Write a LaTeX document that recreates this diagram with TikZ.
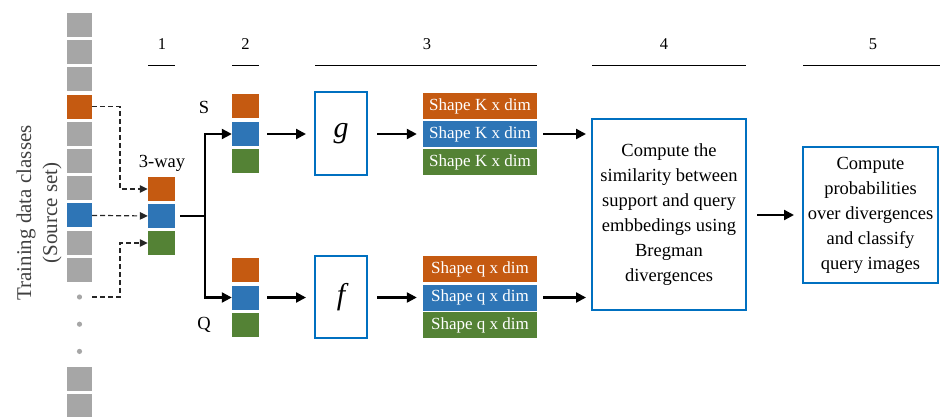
\documentclass[tikz,border=0pt]{standalone}
\usepackage{fontspec}
\setmainfont{Liberation Serif}
\usetikzlibrary{arrows.meta,calc}

\definecolor{cOrange}{HTML}{C55A11}
\definecolor{cBlue}{HTML}{2E75B6}
\definecolor{cGreen}{HTML}{548235}
\definecolor{cGray}{HTML}{A6A6A6}
\definecolor{cFrame}{HTML}{0070C0}
\definecolor{cText}{HTML}{404040}

\tikzset{
  cell/.style={rectangle, inner sep=0pt, minimum width=25pt, minimum height=24pt},
  wcell/.style={rectangle, inner sep=0pt, minimum width=27pt, minimum height=24pt},
  shapebox/.style={rectangle, inner sep=0pt, minimum width=114pt, minimum height=26pt,
    text=white, font=\fontsize{17}{20}\selectfont},
  fnbox/.style={rectangle, draw=cFrame, line width=2pt, inner sep=0pt,
    minimum width=52pt, minimum height=82pt, font=\fontsize{30}{32}\selectfont\itshape},
  textbox/.style={rectangle, draw=cFrame, line width=2pt, inner sep=0pt, align=center,
    font=\fontsize{18.5}{25}\selectfont},
  flow/.style={line width=2.3pt, -{Triangle[length=10pt,width=10pt]}},
  pick/.style={line width=1.2pt, dash pattern=on 5pt off 3pt, draw=black!85,
    -{Triangle[length=8pt,width=7.5pt]}},
  stagenum/.style={font=\fontsize{16.5}{18}\selectfont},
  stageline/.style={line width=0.9pt},
  tag/.style={font=\fontsize{18.5}{20}\selectfont},
}

\begin{document}
\begin{tikzpicture}[x=1pt,y=-1pt]
\useasboundingbox (0,0) rectangle (940,417);

% source set column
\foreach \i/\c in {0/cGray,1/cGray,2/cGray,3/cOrange,4/cGray,5/cGray,6/cGray,7/cBlue,8/cGray,9/cGray,13/cGray,14/cGray}
  \node[cell, fill=\c] (src\i) at (79.5,{25+27.2*\i}) {};
\foreach \i in {10,11,12}
  \fill[cGray] (79.5,{25+27.2*\i}) circle (2.6) coordinate (dot\i);
\coordinate (dotstart) at (92,297);

\node[rotate=90, align=center, text=cText, font=\fontsize{21}{26}\selectfont] (lbl) at (39,213)
  {Training data classes\\(Source set)};

% sampled 3-way task
\node[wcell, fill=cOrange] (w3o) at (161.5,189) {};
\node[wcell, fill=cBlue]   (w3b) at (161.5,216) {};
\node[wcell, fill=cGreen]  (w3g) at (161.5,243) {};
\node[tag] (way) at (162,163) {3-way};

\coordinate (dx) at (120,0);
\draw[pick] (src3.east) -- (src3.east -| dx) -- (w3o.west -| dx) -- (w3o.west);
\draw[pick] (src7.east) -- (w3b.west);
\draw[pick] (dotstart) -- (dotstart -| dx) -- (w3g.west -| dx) -- (w3g.west);

% support / query split
\node[wcell, fill=cOrange] (so) at (245.5,106.5) {};
\node[wcell, fill=cBlue]   (sb) at (245.5,134) {};
\node[wcell, fill=cGreen]  (sg) at (245.5,161.5) {};
\node[wcell, fill=cOrange] (qo) at (245.5,270) {};
\node[wcell, fill=cBlue]   (qb) at (245.5,297.5) {};
\node[wcell, fill=cGreen]  (qg) at (245.5,325) {};
\node[tag] (S) at (204,107) {S};
\node[tag] (Q) at (204,325) {Q};

\coordinate (split) at (205,216);
\draw[line width=2.3pt] ([xshift=5pt]w3b.east) -- (split);
\draw[flow] (split) |- (sb.west);
\draw[flow] (split) |- (qb.west);

% embedding networks
\node[fnbox, minimum height=83pt] (g) at (341,133.5) {g};
\node[fnbox] (f) at (341,297) {f};
\draw[flow, shorten <=8pt, shorten >=8pt] (sb.east) -- (g.west |- sb.east);
\draw[flow, shorten <=8pt, shorten >=8pt] (qb.east) -- (f.west |- qb.east);

% embeddings
\node[shapebox, fill=cOrange] (ek1) at (480,106) {Shape K x dim};
\node[shapebox, fill=cBlue]   (ek2) at (480,134) {Shape K x dim};
\node[shapebox, fill=cGreen]  (ek3) at (480,162) {Shape K x dim};
\node[shapebox, fill=cOrange] (eq1) at (480,269) {Shape q x dim};
\node[shapebox, fill=cBlue]   (eq2) at (480,297.5) {Shape q x dim};
\node[shapebox, fill=cGreen]  (eq3) at (480,325) {Shape q x dim};
\draw[flow, shorten <=9pt, shorten >=6pt] (g.east |- ek2.west) -- (ek2.west);
\draw[flow, shorten <=9pt, shorten >=6pt] (f.east |- eq2.west) -- (eq2.west);

% divergence and classification
\node[textbox, minimum width=154pt, minimum height=191pt] (div) at (669,214.5)
  {Compute the\\similarity between\\support and query\\embbedings using\\Bregman\\divergences};
\node[textbox, minimum width=135pt, minimum height=136pt] (cls) at (870.5,215)
  {Compute\\probabilities\\over divergences\\and classify\\query images};
\draw[flow, shorten <=6pt, shorten >=5pt] (ek2.east) -- (div.west |- ek2.east);
\draw[flow, shorten <=6pt, shorten >=5pt] (eq2.east) -- (div.west |- eq2.east);
\draw[flow, shorten <=10pt, shorten >=8pt] (div.east |- cls.west) -- (cls.west);

% stage headers
\foreach \n/\a/\b/\m in {1/148/175/162, 2/232/259/245.5, 3/315/537/427, 4/592/746/664, 5/803/940/873} {
  \node[stagenum] (st\n) at (\m,44) {\n};
  \draw[stageline] (\a,65) -- (\b,65);
}
\end{tikzpicture}
\end{document}
